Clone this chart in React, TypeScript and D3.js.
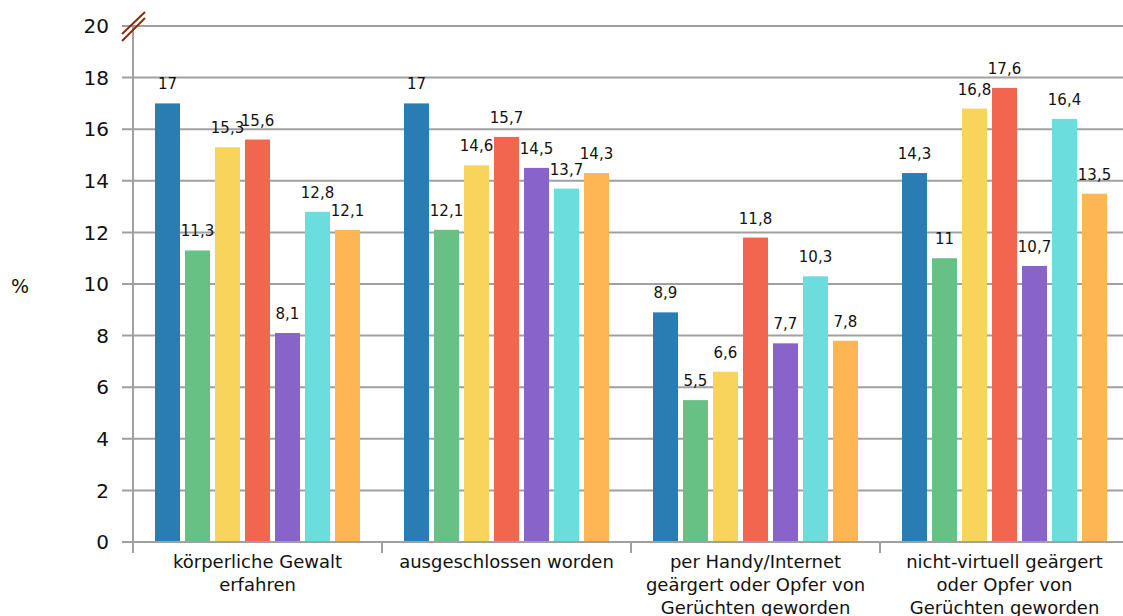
import React from "react";
import * as d3 from "d3";

const categories: string[][] = [
  ["körperliche Gewalt", "erfahren"],
  ["ausgeschlossen worden"],
  ["per Handy/Internet", "geärgert oder Opfer von", "Gerüchten geworden"],
  ["nicht-virtuell geärgert", "oder Opfer von", "Gerüchten geworden"],
];
const series1 = [17, 17, 8.9, 14.3];
const series2 = [11.3, 12.1, 5.5, 11];
const series3 = [15.3, 14.6, 6.6, 16.8];
const series4 = [15.6, 15.7, 11.8, 17.6];
const series5 = [8.1, 14.5, 7.7, 10.7];
const series6 = [12.8, 13.7, 10.3, 16.4];
const series7 = [12.1, 14.3, 7.8, 13.5];
const allSeries = [series1, series2, series3, series4, series5, series6, series7];
const colors = ["#2a7db2", "#68c184", "#f9d45c", "#f2654f", "#8763ca", "#6adddc", "#feb553"];
const yTicks = [0, 2, 4, 6, 8, 10, 12, 14, 16, 18, 20];

export default function App() {
  const W = 1123, H = 616;
  const left = 133, right = 1129, top = 26, bottom = 542;
  const y = d3.scaleLinear().domain([0, 20]).range([bottom, top]);
  const x = d3.scaleBand<number>().domain(categories.map((_, i) => i)).range([left, right]);
  const inner = d3.scaleBand<number>().domain(allSeries.map((_, i) => i)).range([22, 227]).paddingInner(1 / 6).paddingOuter(0);
  const font = "DejaVu Sans, sans-serif";
  return (
    <svg width={W} height={H} style={{ position: "absolute", left: 0, top: 0 }} fontFamily={font}>
      {yTicks.map((t) => (
        <g key={t}>
          <line x1={122} x2={W} y1={y(t)} y2={y(t)} stroke="#a0a0a0" strokeWidth={2} />
          <text x={109} y={y(t)} dy="0.36em" textAnchor="end" fontSize={20} fill="#111">{t}</text>
        </g>
      ))}
      {categories.map((_, ci) =>
        allSeries.map((s, si) => {
          const bx = x(ci)! + inner(si)!;
          const bw = inner.bandwidth();
          return (
            <g key={`${ci}-${si}`}>
              <rect x={bx} y={y(s[ci])} width={bw} height={y(0) - y(s[ci])} fill={colors[si]} />
              <text x={bx + bw / 2} y={y(s[ci]) - 14} textAnchor="middle" fontSize={15} fill="#111">
                {String(s[ci]).replace(".", ",")}
              </text>
            </g>
          );
        })
      )}
      <line x1={left} x2={left} y1={top} y2={553} stroke="#a0a0a0" strokeWidth={2} />
      <line x1={left} x2={W} y1={bottom} y2={bottom} stroke="#a0a0a0" strokeWidth={2} />
      {categories.map((_, i) => (
        <line key={i} x1={x(i)!} x2={x(i)!} y1={bottom} y2={553} stroke="#a0a0a0" strokeWidth={2} />
      ))}
      {categories.map((lines, i) => (
        <text key={i} x={x(i)! + x.bandwidth() / 2} y={568} textAnchor="middle" fontSize={18} fill="#111">
          {lines.map((l, j) => (
            <tspan key={j} x={x(i)! + x.bandwidth() / 2} dy={j === 0 ? 0 : 23}>{l}</tspan>
          ))}
        </text>
      ))}
      <line x1={122} y1={34} x2={145} y2={12} stroke="#8b2a0a" strokeWidth={2} />
      <line x1={122} y1={41} x2={145} y2={18} stroke="#8b2a0a" strokeWidth={2} />
      <text x={20} y={286} dy="0.36em" textAnchor="middle" fontSize={19} fill="#111">%</text>
    </svg>
  );
}
